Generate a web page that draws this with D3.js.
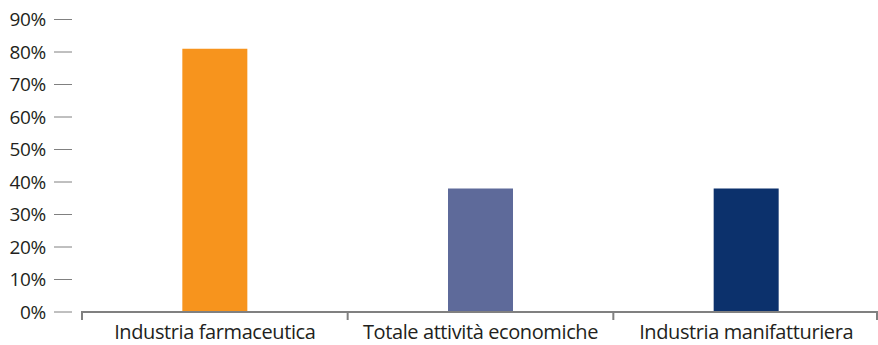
<!DOCTYPE html>
<html><head><meta charset="utf-8">
<script src="https://cdn.jsdelivr.net/npm/d3@7"></script>
<style>body{margin:0;background:#fff}svg{display:block}</style>
</head><body><svg id="c" width="878" height="345"></svg>
<script>
const categories = ["Industria farmaceutica", "Totale attività economiche", "Industria manifatturiera"];
const values = [81, 38, 38];
const colors = ["#F7941D", "#5E6A9A", "#0C316C"];
const yTicks = [0, 10, 20, 30, 40, 50, 60, 70, 80, 90];

const svg = d3.select("#c");
const mLeft = 82, mRight = 879, mTop = 19.5, mBottom = 312;
const x = d3.scaleBand().domain(categories).range([mLeft, mRight]).paddingInner(0).paddingOuter(0);
const y = d3.scaleLinear().domain([0, 90]).range([mBottom, mTop]);
const font = "'Open Sans', 'Noto Sans', sans-serif";
const barW = 65;

// y tick marks and labels
const yg = svg.append("g");
yTicks.forEach(t => {
  yg.append("line").attr("x1", 54).attr("x2", 72).attr("y1", y(t)).attr("y2", y(t))
    .attr("stroke", "#808080").attr("stroke-width", 1);
  yg.append("text").attr("x", 46).attr("y", y(t)).attr("dy", "0.35em")
    .attr("text-anchor", "end").attr("font-family", font).attr("font-size", 19)
    .attr("letter-spacing", -0.3)
    .attr("fill", "#231F20").text(t + "%");
});

// bars
svg.append("g").selectAll("rect").data(categories).join("rect")
  .attr("x", d => x(d) + x.bandwidth() / 2 - barW / 2)
  .attr("width", barW)
  .attr("y", (d, i) => y(values[i]))
  .attr("height", (d, i) => y(0) - y(values[i]))
  .attr("fill", (d, i) => colors[i]);

// baseline and category ticks
svg.append("line").attr("x1", mLeft - 1).attr("x2", 878).attr("y1", mBottom).attr("y2", mBottom)
  .attr("stroke", "#808080").attr("stroke-width", 2);
const bounds = categories.map(c => x(c)).concat([mRight]);
bounds.forEach(b => {
  const bx = Math.min(b, 877);
  svg.append("line").attr("x1", bx).attr("x2", bx).attr("y1", mBottom).attr("y2", mBottom + 8)
    .attr("stroke", "#808080").attr("stroke-width", 2);
});

// category labels
svg.append("g").selectAll("text").data(categories).join("text")
  .attr("x", d => x(d) + x.bandwidth() / 2)
  .attr("y", 339)
  .attr("text-anchor", "middle").attr("font-family", font).attr("font-size", 20)
  .attr("letter-spacing", -0.4)
  .attr("fill", "#231F20").text(d => d);
</script></body></html>
